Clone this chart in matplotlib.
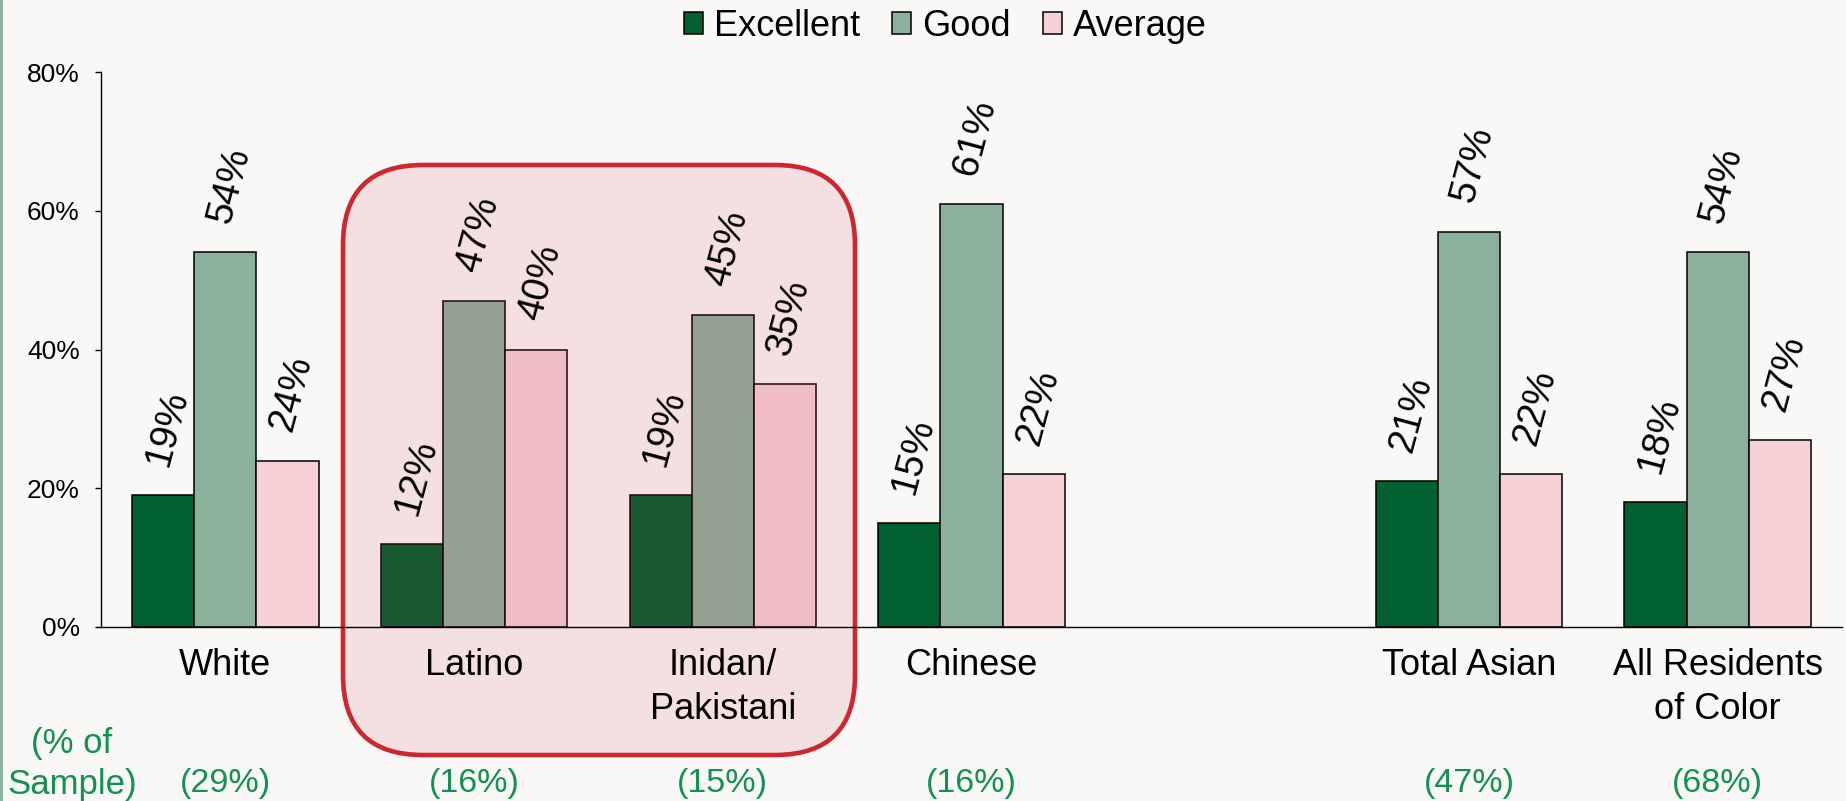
import matplotlib
matplotlib.use('Agg')
import matplotlib.pyplot as plt
import matplotlib.transforms as mtransforms
from matplotlib.patches import FancyBboxPatch, Rectangle
import numpy as np

plt.rcParams['font.family'] = ['Liberation Sans', 'DejaVu Sans']

# %% DATA
categories = ['White', 'Latino', 'Inidan/\nPakistani', 'Chinese',
              'Total Asian', 'All Residents\nof Color']
sample_share = ['(29%)', '(16%)', '(15%)', '(16%)', '(47%)', '(68%)']
excellent = [19, 12, 19, 15, 21, 18]
good = [54, 47, 45, 61, 57, 54]
average = [24, 40, 35, 22, 22, 27]
series_names = ['Excellent', 'Good', 'Average']
y_ticks = [0, 20, 40, 60, 80]

# %% STYLE
bg = '#F9F8F6'
colors = ['#00602F', '#8BB19D', '#F5D1D5']
sample_green = '#12914F'

# one empty slot between Chinese and Total Asian
x = np.arange(len(categories), dtype=float)
x[4:] += 1
w = 0.25

fig = plt.figure(figsize=(18.46, 8.01), dpi=100, facecolor=bg)
ax = fig.add_axes([101 / 1846, 1 - 627 / 801, 1741 / 1846, 555 / 801])
ax.set_facecolor(bg)

for k, vals in enumerate([excellent, good, average]):
    xs = x + (k - 1) * w
    ax.bar(xs, np.array(vals) / 100, width=w, color=colors[k],
           edgecolor='black', linewidth=1.1, zorder=2, label=series_names[k])
    for xi, v in zip(xs, vals):
        ax.annotate(f'{v}%', (xi, v / 100), xytext=(3, 18),
                    textcoords='offset points', ha='center', va='bottom',
                    rotation=75, fontsize=27.5, zorder=3)

# highlight box around Latino and Indian/Pakistani
box = FancyBboxPatch((3.43, 0.46), 5.12, 5.90,
                     boxstyle='round,pad=0,rounding_size=0.8',
                     transform=fig.dpi_scale_trans,
                     facecolor=(215 / 255, 50 / 255, 80 / 255, 0.12),
                     edgecolor='#D0262F', linewidth=3.3, zorder=2.2,
                     clip_on=False)
ax.add_artist(box)

ax.set_xlim(-0.5, 6.5)
ax.set_ylim(0, 0.8)
ax.set_axisbelow(False)
ax.set_yticks(np.array(y_ticks) / 100, [f'{t}%' for t in y_ticks])
ax.set_xticks(x, categories)
for lbl in ax.get_xticklabels():
    lbl.set_linespacing(1.35)
ax.tick_params(axis='y', length=4.3, width=1, pad=11, labelsize=19)
ax.tick_params(axis='x', length=0, pad=15, labelsize=26)
for s in ['top', 'right']:
    ax.spines[s].set_visible(False)
ax.spines['left'].set_linewidth(1)
ax.spines['bottom'].set_linewidth(1)

trans = mtransforms.blended_transform_factory(ax.transData, ax.transAxes)
for xi, s in zip(x, sample_share):
    ax.text(xi, -0.282, s, transform=trans, ha='center', va='center',
            fontsize=24.5, color=sample_green)
fig.text(72 / 1846, 1 - 764 / 801, '(% of\nSample)', ha='center',
         va='center', fontsize=25, color=sample_green, linespacing=1.27)

fig.legend(loc='center', bbox_to_anchor=(0.512, 0.967), ncol=3,
           frameon=False, fontsize=26, handlelength=0.52, handleheight=0.55,
           handletextpad=0.3, columnspacing=0.9)

fig.patches.append(Rectangle((0, 0), 3 / 1846, 1, transform=fig.transFigure,
                             facecolor='#8DB49F', edgecolor='none'))

fig.savefig('out.png', dpi=100, facecolor=bg)
